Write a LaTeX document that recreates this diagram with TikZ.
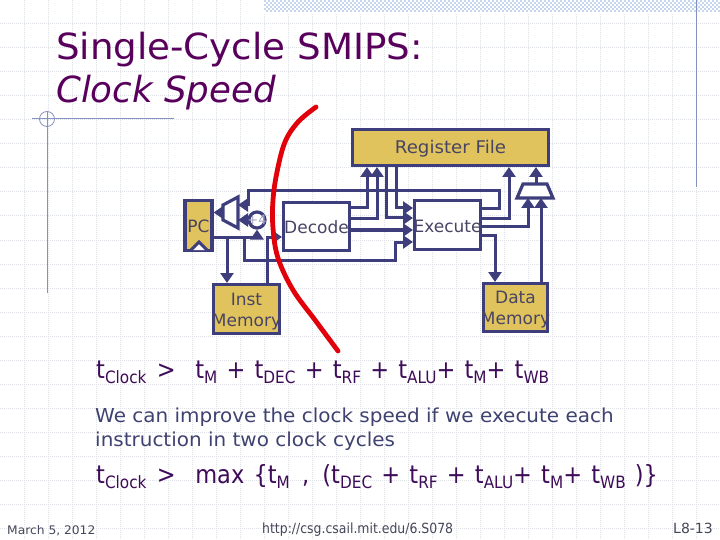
\documentclass[tikz,border=0pt]{standalone}
\usepackage{fontspec}
\setmainfont[FakeStretch=1.04,ItalicFeatures={FakeStretch=.99}]{DejaVu Sans}
\usetikzlibrary{arrows.meta}
\definecolor{navy}{RGB}{62,62,125}
\definecolor{gold}{RGB}{224,195,92}
\definecolor{boxtext}{RGB}{72,68,100}
\definecolor{bodytext}{RGB}{62,66,112}
\definecolor{formula}{RGB}{62,12,88}
\definecolor{titlecol}{RGB}{88,0,92}
\definecolor{foot}{RGB}{70,70,90}
\definecolor{rule}{RGB}{130,145,190}
\definecolor{gridc}{RGB}{222,226,230}
\definecolor{bandc}{RGB}{198,214,236}
\definecolor{redc}{RGB}{226,0,10}
\newcommand{\fs}[1]{\fontsize{#1}{#1}\selectfont}
\newcommand{\nar}[1]{\addfontfeature{FakeStretch=#1}}
\newcommand{\sbx}[1]{\raisebox{-5.5pt}{\fs{17}\nar{.9}#1}}
\newcommand{\wide}[1]{\makebox[0pt][c]{#1}}
\newcommand{\bl}[2]{\makebox[0pt][c]{\smash{\raisebox{#1}{#2}}}}
\newcommand{\fmlsp}{\spaceskip 9.2pt\relax}
\tikzset{
  x=1pt,y=-1pt,
  conn/.style={draw=navy,line width=3pt,line join=miter},
  arr/.style={conn,-{Triangle[width=13pt,length=10pt]}},
  goldbox/.style={draw=navy,line width=3.2pt,fill=gold,inner sep=0pt,text=boxtext,font=\fs{17}\nar{1}},
  whitebox/.style={draw=navy,line width=3.2pt,fill=white,inner sep=0pt,text=boxtext,font=\fs{17}\nar{1}},
  label/.style={inner sep=0pt,anchor=base west},
  fml/.style={label,text=formula,font=\fs{25}\nar{.9}},
  bodyt/.style={label,text=bodytext,font=\fs{19.2}},
  muxs/.style={draw=navy,line width=3.2pt,fill=white,line join=miter},
}
\begin{document}
\begin{tikzpicture}
\useasboundingbox (0,0) rectangle (720,540);
\fill[white] (0,0) rectangle (720,540);
% background grid
\foreach \g in {24,48,...,528} \draw[gridc,line width=1pt,dash pattern=on 1pt off 1pt] (0,\g) -- (720,\g);
\foreach \g in {24,48,...,696} \draw[gridc,line width=1pt,dash pattern=on 1pt off 1pt] (\g,0) -- (\g,540);
% top band
\fill[white] (264,0) rectangle (720,13);
\foreach \r in {1,5,9}  \draw[bandc,line width=2pt,dash pattern=on 2pt off 2pt] (264,\r) -- (720,\r);
\foreach \r in {3,7,11} \draw[bandc,line width=2pt,dash pattern=on 2pt off 2pt,dash phase=2pt] (264,\r) -- (720,\r);
% decorative rules
\coordinate (hl) at (32,119); \coordinate (hr) at (174,119);
\coordinate (vt) at (47,112); \coordinate (vb) at (47,293);
\coordinate (rt) at (696,0);  \coordinate (rb) at (696,187);
\draw[rule,line width=1pt] (hl) -- (hr);
\draw[rule,line width=1pt] (vt) -- (vb);
\draw[rule,line width=1pt] (rt) -- (rb);
\node[draw=rule,line width=.8pt,circle,minimum size=15pt,inner sep=0pt] (cc) at (47,119) {};
% title
\node[label,text=titlecol,font=\fs{36}\nar{1.033}] (t1) at (56,60) {Single-Cycle SMIPS:};
\node[label,text=titlecol,font=\fs{36}\itshape] (t2) at (56,103) {Clock Speed};
% boxes
\node[goldbox,minimum width=196pt,minimum height=36pt] (rf) at (450.5,147.5) {\bl{-6.5pt}{\fs{17.5}\nar{1.04}Register File}};
\node[goldbox,minimum width=27pt,minimum height=50pt] (pc) at (198.5,225.5) {\bl{-7.5pt}{PC}};
\node[whitebox,minimum width=66pt,minimum height=48pt] (dec) at (316.5,226.5) {\bl{-6.5pt}{Decode}};
\node[whitebox,minimum width=66pt,minimum height=49pt] (ex) at (447.5,225) {\bl{-8pt}{Execute}};
\node[goldbox,minimum width=66pt,minimum height=49pt] (im) at (246.5,309) {\bl{4pt}{Inst}\bl{-17pt}{Memory}};
\node[goldbox,minimum width=64pt,minimum height=48pt] (dm) at (515.5,307.5) {\bl{4.5pt}{Data}\bl{-16.5pt}{Memory}};
% PC clock mark
\coordinate (ck1) at (191,250); \coordinate (ck2) at (199,242); \coordinate (ck3) at (207,250);
\draw[navy,line width=3pt,fill=white] (ck1) -- (ck2) -- (ck3);
% +4 adder
\node[draw=navy,line width=3.2pt,fill=white,circle,minimum size=16pt,inner sep=0pt,text=navy!45,font=\fs{13}\nar{1}] (p4) at (257,220) {\bl{-4.5pt}{+4}};
% PC mux
\coordinate (ma) at (223,205); \coordinate (mb) at (238,197); \coordinate (mc) at (238,228); \coordinate (md) at (223,220);
\draw[muxs] (ma) -- (mb) -- (mc) -- (md) -- cycle;
\coordinate (mo) at (223,212.5);
\coordinate (mi1) at (238,205); \coordinate (mi2) at (238,220);
% WB mux
\coordinate (wa) at (523,184); \coordinate (wb) at (547,184); \coordinate (wc) at (553,198); \coordinate (wd) at (517,198);
\draw[muxs] (wa) -- (wb) -- (wc) -- (wd) -- cycle;
\coordinate (wo) at (536,184);
\coordinate (wi1) at (528,198); \coordinate (wi2) at (541,198);
% connector way points
\coordinate (pcout) at (pc.east |- 0,237);
\coordinate (jim) at (227,237);
\coordinate (jbr) at (244,237);
\coordinate (jp4) at (257,237);
\coordinate (imo) at (267,283);
\coordinate (imi) at (227,283);
\coordinate (di) at (282,237);
\coordinate (rfa) at (367,167); \coordinate (rfb) at (377,167);
\coordinate (rfc) at (386,167); \coordinate (rfd) at (396,167);
\coordinate (rfe) at (509,167); \coordinate (rff) at (536,167);
\coordinate (da) at (351,208); \coordinate (db) at (351,219); \coordinate (dc) at (351,230);
\coordinate (ea) at (413,208); \coordinate (eb) at (413,218); \coordinate (ec) at (413,230); \coordinate (ed) at (413,242);
\coordinate (xa) at (482,209); \coordinate (xb) at (482,219); \coordinate (xc) at (482,227); \coordinate (xd) at (482,235);
\coordinate (dmi) at (495,282); \coordinate (dmo) at (541,282);
% connectors
\draw[arr] (mo) -- (pc.east |- mo);
\draw[arr] (p4) -- (mi2);
\draw[arr] (pcout) -- (jp4) -- (p4.south);
\draw[arr] (jim) -- (imi);
\draw[arr] (imo) |- (di);
\draw[arr] (jbr) -- (244,260) -| (395,242) -- (ed);
\draw[arr] (xa) -- (499,209) -- (499,191) -- (248,191) -- (248,205) -- (mi1);
\draw[arr] (da) -| (rfa);
\draw[arr] (db) -| (rfb);
\draw[arr] (dc) -- (ec);
\draw[arr] (rfc) |- (eb);
\draw[arr] (rfd) |- (ea);
\draw[arr] (xb) -| (rfe);
\draw[arr] (xc) -| (wi1);
\draw[arr] (xd) -| (dmi);
\draw[arr] (dmo) -- (wi2);
\draw[arr] (wo) -- (rff);
% red curve
\draw[redc,line width=4.8pt,line cap=round] plot[smooth,tension=.6] coordinates {(316,107) (298,122) (285,142) (277,172) (273,200) (273,228) (278,258) (293,290) (315,320) (338,351)};
% text
\node[fml] (f1) at (96,378) {\fmlsp t\sbx{Clock}\hspace{1pt} >\hspace{10.5pt} t\sbx{M} + t\sbx{DEC} + t\sbx{RF} + t\sbx{ALU}+ t\sbx{M}+ t\sbx{WB}};
\node[bodyt] (b1) at (95,422) {We can improve the clock speed if we execute each};
\node[bodyt] (b2) at (95,446) {instruction in two clock cycles};
\node[fml] (f2) at (96,483) {\fmlsp t\sbx{Clock}\hspace{1pt} >\hspace{10.5pt} max \{t\sbx{M}\hspace{3pt} ,\hspace{4pt} (t\sbx{DEC} + t\sbx{RF} + t\sbx{ALU}+ t\sbx{M}+ t\sbx{WB} )\}};
\node[label,text=foot,font=\fs{11.8}] (date) at (7,534) {March 5, 2012};
\node[label,text=foot,font=\fs{14}\nar{.89}] (url) at (262,533) {http://csg.csail.mit.edu/6.S078};
\node[label,text=foot,font=\fs{14}\nar{1}] (pg) at (673,533) {L8-13};
\end{tikzpicture}
\end{document}
